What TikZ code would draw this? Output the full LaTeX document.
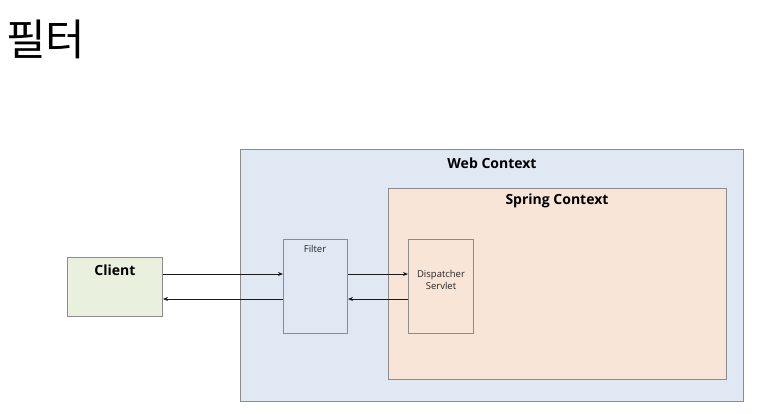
\documentclass[tikz,border=0pt]{standalone}
\usepackage{fontspec}
\setmainfont{Open Sans}
\newfontfamily\krfont{Noto Sans CJK KR}
\usetikzlibrary{arrows.meta}
\definecolor{boxgray}{HTML}{8C8C8C}
\definecolor{webblue}{HTML}{E0E8F4}
\definecolor{springpeach}{HTML}{F9E4D8}
\definecolor{clientgreen}{HTML}{E9F0DD}
\begin{document}
\begin{tikzpicture}[x=1pt,y=-1pt,
  box/.style={draw=boxgray, line width=1pt, inner sep=0pt, anchor=north west},
  boldlbl/.style={font=\bfseries\fontsize{14}{16}\selectfont, inner sep=0pt, anchor=center},
  smalllbl/.style={font=\fontsize{9.5}{12}\selectfont, text=black!85, inner sep=0pt, align=center},
  arr/.style={draw=black!90, line width=1pt, -{Stealth[length=5pt,width=4pt]}}]
\useasboundingbox[fill=white] (0,0) rectangle (757,413);
\node[anchor=base west, inner sep=0pt, font=\krfont\fontsize{43}{43}\selectfont] (title) at (6,55) {필터};
\node[box, fill=webblue, minimum width=503pt, minimum height=252pt] (web) at (240,149) {};
\node[boldlbl] (weblbl) at (492,163) {Web Context};
\node[box, fill=springpeach, minimum width=338pt, minimum height=191pt] (spring) at (388,188) {};
\node[boldlbl] (springlbl) at (557,201) {Spring Context};
\node[box, fill=clientgreen, minimum width=95pt, minimum height=59pt] (client) at (67,257) {};
\node[boldlbl] (clientlbl) at (115,270) {Client};
\node[box, fill=webblue, minimum width=64pt, minimum height=94pt] (filter) at (283,239) {};
\node[smalllbl] (filterlbl) at (315,249) {Filter};
\node[box, fill=springpeach, minimum width=65pt, minimum height=94pt] (ds) at (408,239) {};
\node[smalllbl] (dslbl) at (441,280) {Dispatcher\\Servlet};
\coordinate (r1) at (0,274);
\coordinate (r2) at (0,299);
\draw[arr] (client.east |- r1) -- (filter.west |- r1);
\draw[arr] (filter.west |- r2) -- (client.east |- r2);
\draw[arr] (filter.east |- r1) -- (ds.west |- r1);
\draw[arr] (ds.west |- r2) -- (filter.east |- r2);
\end{tikzpicture}
\end{document}
